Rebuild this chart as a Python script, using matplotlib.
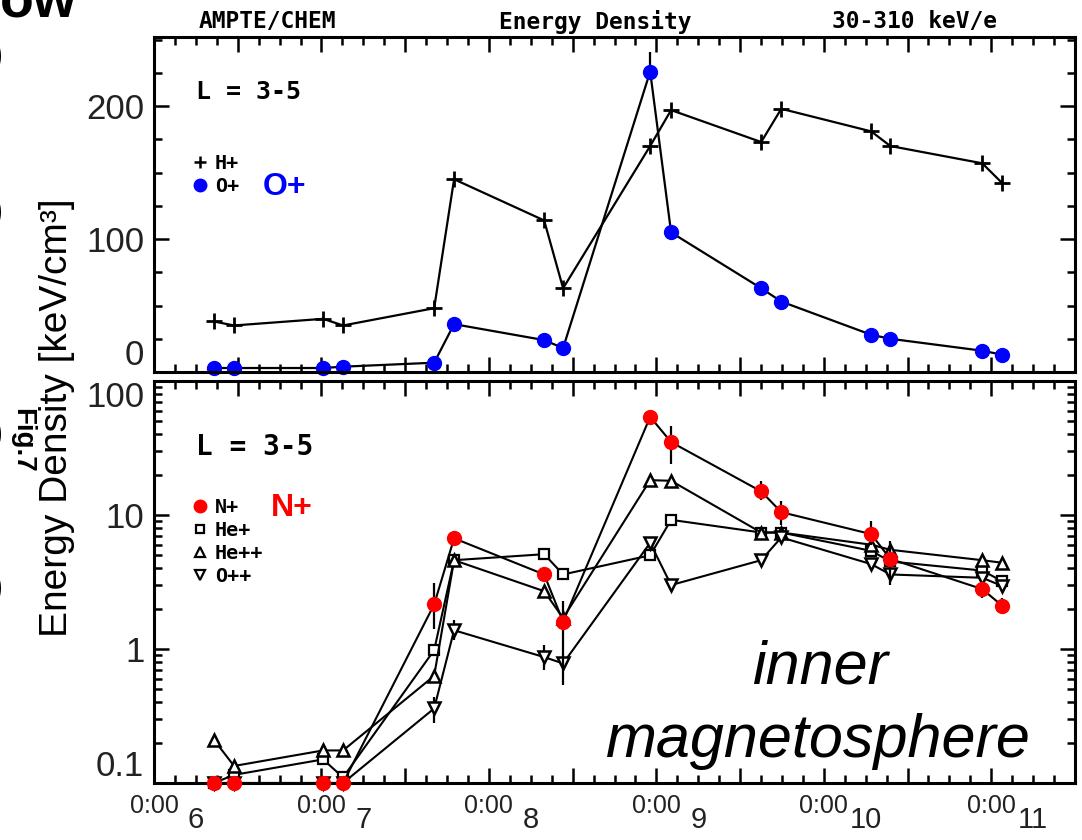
import numpy as np
import matplotlib
matplotlib.use('Agg')
import matplotlib.pyplot as plt
import matplotlib.transforms as mtransforms
from matplotlib.ticker import MultipleLocator, FixedLocator, FixedFormatter, FuncFormatter, LogLocator, NullFormatter
from matplotlib.lines import Line2D

# pass times in days after the first 0:00 tick
t = [0.358, 0.478, 1.010, 1.129, 1.673, 1.792, 2.330, 2.443,
     2.963, 3.088, 3.626, 3.746, 4.283, 4.397, 4.946, 5.066]

# top panel, linear keV/cm3
h_plus = [38, 35, 40, 35, 48, 145, 114, 63, 170, 197, 173, 198, 181, 170, 157, 142]
o_plus = [3, 3, 3, 4, 7, 36, 24, 18, 226, 105, 63, 53, 28, 25, 16, 13]
o_plus_up = [0, 0, 0, 0, 0, 0, 0, 0, 15, 0, 0, 0, 0, 0, 0, 0]

# bottom panel, log keV/cm3
n_plus = [0.1, 0.1, 0.1, 0.1, 2.15, 6.7, 3.6, 1.6, 54, 35, 15, 10.5, 7.2, 4.7, 2.8, 2.1]
n_lo = [0.1, 0.1, 0.1, 0.1, 1.4, 6.7, 3.6, 0.54, 54, 24, 13, 8.4, 6.0, 3.4, 2.4, 1.9]
n_hi = [0.1, 0.1, 0.1, 0.1, 3.1, 6.7, 3.6, 2.3, 54, 46, 18, 12.7, 9.0, 6.4, 3.0, 2.4]
he_plus = [0.1, 0.115, 0.15, 0.11, 0.98, 4.6, 5.1, 3.6, 5.0, 9.2, 7.4, 7.4, 5.4, 4.5, 3.85, 3.2]
he_pp = [0.21, 0.134, 0.175, 0.175, 0.63, 4.6, 2.7, 1.7, 18.2, 18.0, 7.4, 7.4, 6.0, 5.5, 4.6, 4.4]
o_pp = [0.1, 0.1, 0.1, 0.1, 0.36, 1.38, 0.87, 0.78, 6.2, 3.0, 4.6, 6.8, 4.3, 3.6, 3.4, 2.95]
o_pp_lo = [0.1, 0.1, 0.1, 0.1, 0.28, 1.17, 0.7, 0.78, 6.2, 3.0, 4.6, 6.8, 4.3, 3.0, 3.4, 2.95]
o_pp_hi = [0.1, 0.1, 0.1, 0.1, 0.44, 1.65, 1.07, 0.78, 6.2, 3.0, 4.6, 6.8, 4.3, 4.5, 3.4, 2.95]

day_labels = ['6', '7', '8', '9', '10', '11']
top_yticks = [0, 100, 200]
bot_yticks = [0.1, 1, 10, 100]
bot_ylabels = ['0.1', '1', '10', '100']

mono = 'DejaVu Sans Mono'
sans = 'Liberation Sans'
W, H = 1082, 840

fig = plt.figure(figsize=(W / 100, H / 100), dpi=100)
ax1 = fig.add_axes([154 / W, 1 - 372 / H, 921 / W, 335 / H])
ax2 = fig.add_axes([154 / W, 1 - 783 / H, 921 / W, 402 / H])


def style_axes(ax):
    for s in ax.spines.values():
        s.set_linewidth(2.2)
    ax.tick_params(which='both', direction='in', top=True, right=True, width=1.8)
    ax.tick_params(which='major', length=11)
    ax.tick_params(which='minor', length=6)
    ax.tick_params(axis='y', labelsize=25, pad=7)
    ax.tick_params(axis='x', labelsize=18, pad=8)
    ax.set_xlim(0, 5.5)
    ax.xaxis.set_major_locator(MultipleLocator(0.5))
    ax.xaxis.set_minor_locator(MultipleLocator(0.125))
    ax.xaxis.set_major_formatter(FuncFormatter(
        lambda v, p: '0:00' if abs(v - round(v)) < 1e-6 else ''))


# ---- top panel
style_axes(ax1)
ax1.set_ylim(0, 252)
ax1.yaxis.set_major_locator(FixedLocator(top_yticks))
ax1.yaxis.set_minor_locator(MultipleLocator(25))
ax1.tick_params(axis='x', labelbottom=False)

ax1.plot(t, h_plus, color='k', lw=1.6, marker='+', ms=12, mew=2, clip_on=False)
ax1.errorbar(t, o_plus, yerr=[np.zeros(len(o_plus)), o_plus_up], color='k', lw=1.6,
             elinewidth=1.6, capsize=0, marker='o', ms=10, mfc='#0000ff', mec='#0000ff',
             clip_on=False)

ax1.text(0.046, 0.836, 'L = 3-5', transform=ax1.transAxes, family=mono,
         weight='bold', fontsize=18, va='center', ha='left')
h1 = [Line2D([], [], ls='none', marker='+', ms=9, mew=1.8, color='k'),
      Line2D([], [], ls='none', marker='o', ms=9, mfc='#0000ff', mec='#0000ff')]
ax1.legend(h1, ['H+', 'O+'], loc='upper left', bbox_to_anchor=(0.041, 0.652),
           frameon=False, borderpad=0, borderaxespad=0, handlelength=0.8,
           handletextpad=0.35, labelspacing=0.2,
           prop={'family': mono, 'weight': 'bold', 'size': 14.5})
ax1.text(0.142, 0.552, 'O+', transform=ax1.transAxes, family=sans, weight='bold',
         fontsize=23, color='#0000ff', va='center', ha='center')

# ---- bottom panel
style_axes(ax2)
ax2.set_yscale('log')
ax2.set_ylim(0.1, 100)
ax2.yaxis.set_major_locator(FixedLocator(bot_yticks))
ax2.yaxis.set_major_formatter(FixedFormatter(bot_ylabels))
ax2.yaxis.set_minor_locator(LogLocator(base=10, subs=np.arange(2, 10)))
ax2.yaxis.set_minor_formatter(NullFormatter())

ax2.plot(t, he_plus, color='k', lw=1.5, marker='s', ms=7, mfc='white', mec='k',
         mew=1.6, clip_on=False)
ax2.plot(t, he_pp, color='k', lw=1.5, marker='^', ms=8, mfc='white', mec='k',
         mew=1.8, clip_on=False)
o_pp_a = np.array(o_pp)
ax2.errorbar(t, o_pp, yerr=[o_pp_a - np.array(o_pp_lo), np.array(o_pp_hi) - o_pp_a],
             color='k', lw=1.5, elinewidth=1.6, capsize=0, marker='v', ms=8,
             mfc='white', mec='k', mew=1.8, clip_on=False)
n_a = np.array(n_plus)
ax2.errorbar(t, n_plus, yerr=[n_a - np.array(n_lo), np.array(n_hi) - n_a],
             color='k', lw=1.5, elinewidth=1.6, capsize=0, marker='o', ms=10,
             mfc='#ff0000', mec='#ff0000', clip_on=False, zorder=4)

ax2.text(0.046, 0.836, 'L = 3-5', transform=ax2.transAxes, family=mono,
         weight='bold', fontsize=20, va='center', ha='left')
h2 = [Line2D([], [], ls='none', marker='o', ms=9, mfc='#ff0000', mec='#ff0000'),
      Line2D([], [], ls='none', marker='s', ms=6, mfc='white', mec='k', mew=1.6),
      Line2D([], [], ls='none', marker='^', ms=7, mfc='white', mec='k', mew=1.6),
      Line2D([], [], ls='none', marker='v', ms=7, mfc='white', mec='k', mew=1.6)]
ax2.legend(h2, ['N+', 'He+', 'He++', 'O++'], loc='upper left',
           bbox_to_anchor=(0.041, 0.708), frameon=False, borderpad=0,
           borderaxespad=0, handlelength=0.8, handletextpad=0.35, labelspacing=0.2,
           prop={'family': mono, 'weight': 'bold', 'size': 14.5})
ax2.text(0.15, 0.684, 'N+', transform=ax2.transAxes, family=sans, weight='bold',
         fontsize=23, color='#ff0000', va='center', ha='center')

trans = mtransforms.blended_transform_factory(ax2.transData, ax2.transAxes)
for k, lab in enumerate(day_labels):
    ax2.text(k + 0.25, -0.093, lab, transform=trans, ha='center', va='center',
             family=sans, fontsize=21, color='#222222', clip_on=False)

fig.text(820 / W, 1 - 683 / H, 'inner', family=sans, style='italic', fontsize=44,
         ha='center', va='baseline')
fig.text(818 / W, 1 - 757 / H, 'magnetosphere', family=sans, style='italic',
         fontsize=44, ha='center', va='baseline')

# header line
for x, s in [(267, 'AMPTE/CHEM'), (595, 'Energy Density'), (915, '30-310 keV/e')]:
    fig.text(x / W, 1 - 22 / H, s, family=mono, weight='bold', fontsize=16.5,
             ha='center', va='center')

fig.text(57 / W, 1 - 418 / H, 'Energy Density [keV/cm³]', rotation=90,
         family=sans, fontsize=28, ha='center', va='center')

# bits of the neighbouring slide cut off at the left edge
fig.text(35 / W, 1 - 440 / H, 'Fig.7', rotation=-90, family=sans, weight='bold',
         fontsize=20, ha='right', va='center')
for y in [62, 218, 440, 595]:
    fig.text(-22 / W, 1 - y / H, 'O', family=sans, weight='bold', fontsize=46,
             ha='center', va='center')
fig.text(0.0, 1 - 17 / H, 'ow', family=sans, weight='bold', fontsize=40,
         ha='left', va='baseline')

# tick label fonts, and nudge the labels that sit at the panel seam
fig.canvas.draw()
for ax in (ax1, ax2):
    for lab in ax.get_xticklabels() + ax.get_yticklabels():
        lab.set_fontfamily(sans)
        lab.set_color('#222222')
ax1.yaxis.get_major_ticks()[0].label1.set_verticalalignment('bottom')
ax2.yaxis.get_major_ticks()[0].label1.set_verticalalignment('bottom')
ax2.yaxis.get_major_ticks()[3].label1.set_verticalalignment('top')

fig.savefig('out.png', dpi=100)
